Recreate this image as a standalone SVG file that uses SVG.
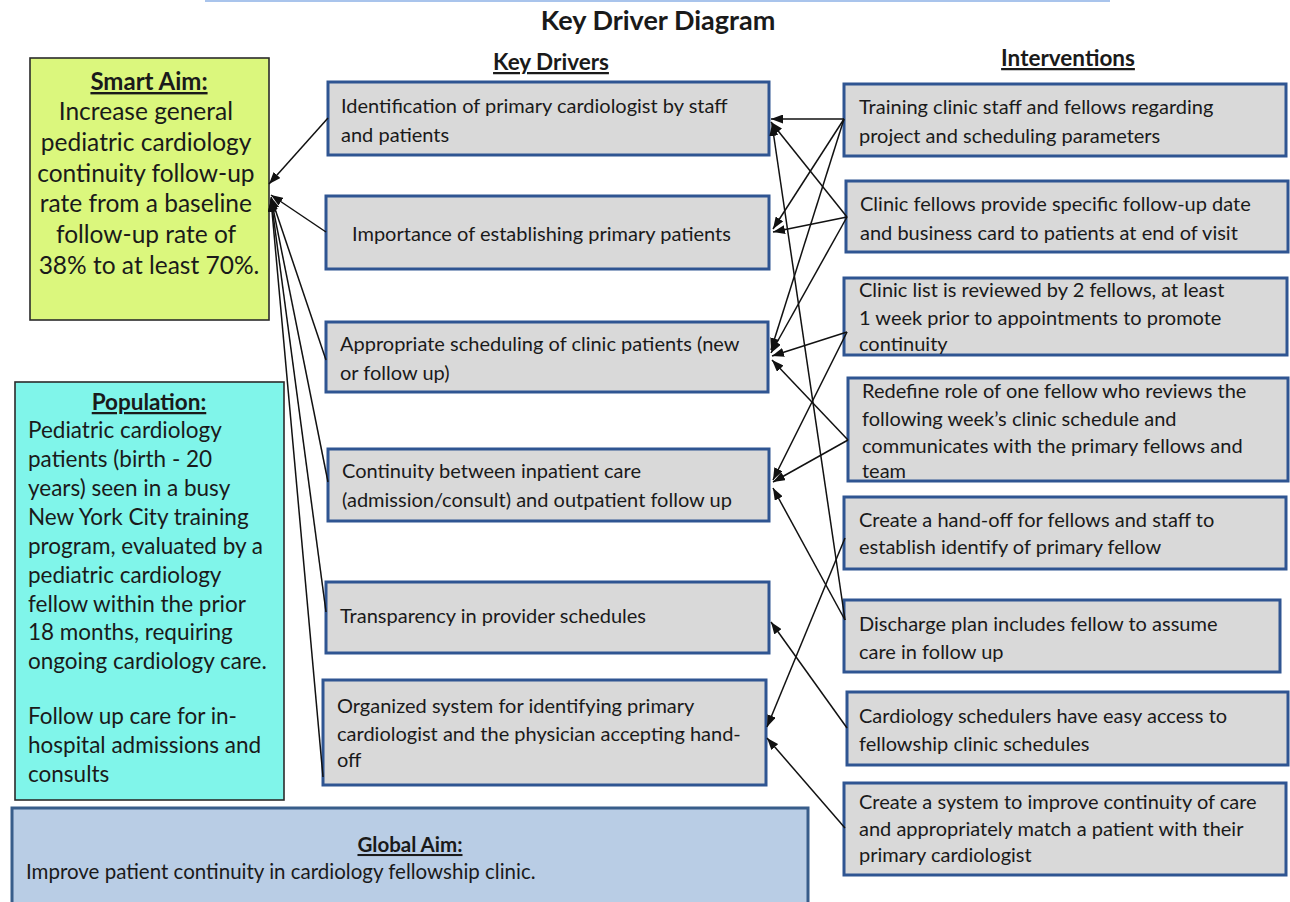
<svg xmlns="http://www.w3.org/2000/svg" width="1290" height="902" viewBox="0 0 1290 902">
  <defs>
    <marker id="arrow" markerUnits="userSpaceOnUse" markerWidth="12" markerHeight="9" refX="12" refY="4.5" orient="auto">
      <path d="M0,0 L12,4.5 L0,9 z" fill="#111"/>
    </marker>
    <style>
      text { font-family: Lato, "Open Sans", "Liberation Sans", sans-serif; fill: #1a1a1a; }
      .title { font-size: 27px; font-weight: 700; }
      .head { font-size: 22.5px; font-weight: 700; text-decoration: underline; }
      .box { fill: #d9d9d9; stroke: #2f5592; stroke-width: 3; }
      .t { font-size: 20px; }
      .aim { fill: #dbf77d; stroke: #2b2b2b; stroke-width: 1.6; }
      .pop { fill: #80f5ea; stroke: #2b2b2b; stroke-width: 1.6; }
      .glob { fill: #b9cde5; stroke: #385d8a; stroke-width: 3; }
      .big { font-size: 24.5px; }
      .pt { font-size: 22.5px; }
      .sh { font-size: 24px; font-weight: 700; text-decoration: underline; }
      .ph { font-size: 22.5px; font-weight: 700; text-decoration: underline; }
      .gh { font-size: 20.5px; font-weight: 700; text-decoration: underline; }
      .gt { font-size: 20.5px; }
      .conn line { stroke: #111; stroke-width: 1.5; marker-end: url(#arrow); }
    </style>
  </defs>

  <rect width="1290" height="902" fill="#ffffff"/>

  <!-- rule across the top -->
  <line x1="205" y1="1" x2="1110" y2="1" stroke="#a9c4ec" stroke-width="2"/>

  <text class="title" x="658" y="30" text-anchor="middle">Key Driver Diagram</text>
  <text class="head" x="551" y="70" text-anchor="middle">Key Drivers</text>
  <text class="head" x="1068" y="66" text-anchor="middle">Interventions</text>

  <!-- aims and population -->
  <g id="smart-aim">
    <rect class="aim" x="30" y="58" width="239" height="262"/>
    <text class="sh" x="149" y="90" text-anchor="middle">Smart Aim:</text>
    <text class="big" x="149" text-anchor="middle">
      <tspan x="149" y="120">Increase general</tspan>
      <tspan x="149" y="151">pediatric cardiology</tspan>
      <tspan x="149" y="182">continuity follow-up</tspan>
      <tspan x="149" y="212">rate from a baseline</tspan>
      <tspan x="149" y="243">follow-up rate of</tspan>
      <tspan x="149" y="274">38% to at least 70%.</tspan>
    </text>
  </g>

  <g id="population">
    <rect class="pop" x="15" y="382" width="269" height="418"/>
    <text class="ph" x="149" y="410" text-anchor="middle">Population:</text>
    <text class="pt">
      <tspan x="28" y="438">Pediatric cardiology</tspan>
      <tspan x="28" y="467">patients (birth - 20</tspan>
      <tspan x="28" y="496">years) seen in a busy</tspan>
      <tspan x="28" y="525">New York City training</tspan>
      <tspan x="28" y="554">program, evaluated by a</tspan>
      <tspan x="28" y="583">pediatric cardiology</tspan>
      <tspan x="28" y="612">fellow within the prior</tspan>
      <tspan x="28" y="640">18 months, requiring</tspan>
      <tspan x="28" y="669">ongoing cardiology care.</tspan>
      <tspan x="28" y="724">Follow up care for in-</tspan>
      <tspan x="28" y="753">hospital admissions and</tspan>
      <tspan x="28" y="782">consults</tspan>
    </text>
  </g>

  <g id="global-aim">
    <rect class="glob" x="12" y="808" width="796" height="110"/>
    <text class="gh" x="410" y="852" text-anchor="middle">Global Aim:</text>
    <text class="gt" x="26" y="879">Improve patient continuity in cardiology fellowship clinic.</text>
  </g>

  <!-- key drivers -->
  <g id="kd1">
    <rect class="box" x="328" y="82" width="441" height="73"/>
    <text class="t"><tspan x="341" y="113">Identification of primary cardiologist by staff</tspan><tspan x="341" y="142">and patients</tspan></text>
  </g>
  <g id="kd2">
    <rect class="box" x="326" y="196" width="443" height="73"/>
    <text class="t" x="352" y="241">Importance of establishing primary patients</text>
  </g>
  <g id="kd3">
    <rect class="box" x="326" y="322" width="442" height="70"/>
    <text class="t"><tspan x="340" y="351">Appropriate scheduling of clinic patients (new</tspan><tspan x="340" y="380">or follow up)</tspan></text>
  </g>
  <g id="kd4">
    <rect class="box" x="328" y="449" width="441" height="72"/>
    <text class="t"><tspan x="342" y="478">Continuity between inpatient care</tspan><tspan x="342" y="507">(admission/consult) and outpatient follow up</tspan></text>
  </g>
  <g id="kd5">
    <rect class="box" x="326" y="582" width="443" height="71"/>
    <text class="t" x="340" y="623">Transparency in provider schedules</text>
  </g>
  <g id="kd6">
    <rect class="box" x="323" y="680" width="443" height="105"/>
    <text class="t"><tspan x="337" y="713">Organized system for identifying primary</tspan><tspan x="337" y="741">cardiologist and the physician accepting hand-</tspan><tspan x="337" y="767">off</tspan></text>
  </g>

  <!-- interventions -->
  <g id="iv1">
    <rect class="box" x="844" y="84" width="442" height="72"/>
    <text class="t"><tspan x="859" y="114">Training clinic staff and fellows regarding</tspan><tspan x="859" y="143">project and scheduling parameters</tspan></text>
  </g>
  <g id="iv2">
    <rect class="box" x="846" y="181" width="442" height="71"/>
    <text class="t"><tspan x="860" y="211">Clinic fellows provide specific follow-up date</tspan><tspan x="860" y="240">and business card to patients at end of visit</tspan></text>
  </g>
  <g id="iv3">
    <rect class="box" x="844" y="278" width="443" height="77"/>
    <text class="t"><tspan x="859" y="297">Clinic list is reviewed by 2 fellows, at least</tspan><tspan x="859" y="325">1 week prior to appointments to promote</tspan><tspan x="859" y="351">continuity</tspan></text>
  </g>
  <g id="iv4">
    <rect class="box" x="848" y="378" width="440" height="103"/>
    <text class="t"><tspan x="862" y="398">Redefine role of one fellow who reviews the</tspan><tspan x="862" y="426">following week’s clinic schedule and</tspan><tspan x="862" y="453">communicates with the primary fellows and</tspan><tspan x="862" y="478">team</tspan></text>
  </g>
  <g id="iv5">
    <rect class="box" x="844" y="497" width="442" height="72"/>
    <text class="t"><tspan x="859" y="527">Create a hand-off for fellows and staff to</tspan><tspan x="859" y="554">establish identify of primary fellow</tspan></text>
  </g>
  <g id="iv6">
    <rect class="box" x="844" y="600" width="436" height="72"/>
    <text class="t"><tspan x="859" y="631">Discharge plan includes fellow to assume</tspan><tspan x="859" y="659">care in follow up</tspan></text>
  </g>
  <g id="iv7">
    <rect class="box" x="847" y="692" width="441" height="73"/>
    <text class="t"><tspan x="859" y="723">Cardiology schedulers have easy access to</tspan><tspan x="859" y="751">fellowship clinic schedules</tspan></text>
  </g>
  <g id="iv8">
    <rect class="box" x="844" y="783" width="442" height="92"/>
    <text class="t"><tspan x="859" y="809">Create a system to improve continuity of care</tspan><tspan x="859" y="836">and appropriately match a patient with their</tspan><tspan x="859" y="862">primary cardiologist</tspan></text>
  </g>

  <!-- connectors -->
  <g id="connectors" class="conn">
    <!-- key drivers to smart aim -->
    <line x1="328" y1="118" x2="269" y2="184"/>
    <line x1="326" y1="232" x2="271" y2="195"/>
    <line x1="326" y1="360" x2="271" y2="197"/>
    <line x1="328" y1="482" x2="271" y2="198"/>
    <line x1="326" y1="612" x2="271" y2="199"/>
    <line x1="323" y1="777" x2="271" y2="200"/>
    <!-- interventions to key drivers -->
    <line x1="844" y1="119" x2="771" y2="119"/>
    <line x1="844" y1="119" x2="773" y2="229"/>
    <line x1="844" y1="119" x2="771" y2="350"/>
    <line x1="847" y1="217" x2="771" y2="122"/>
    <line x1="847" y1="217" x2="773" y2="232"/>
    <line x1="847" y1="217" x2="771" y2="353"/>
    <line x1="847" y1="332" x2="772" y2="356"/>
    <line x1="847" y1="332" x2="773" y2="480"/>
    <line x1="848" y1="440" x2="772" y2="360"/>
    <line x1="848" y1="440" x2="773" y2="482"/>
    <line x1="845" y1="538" x2="767" y2="727"/>
    <line x1="845" y1="620" x2="772" y2="124"/>
    <line x1="845" y1="620" x2="773" y2="488"/>
    <line x1="847" y1="728" x2="771" y2="622"/>
    <line x1="845" y1="828" x2="767" y2="738"/>
  </g>
</svg>
